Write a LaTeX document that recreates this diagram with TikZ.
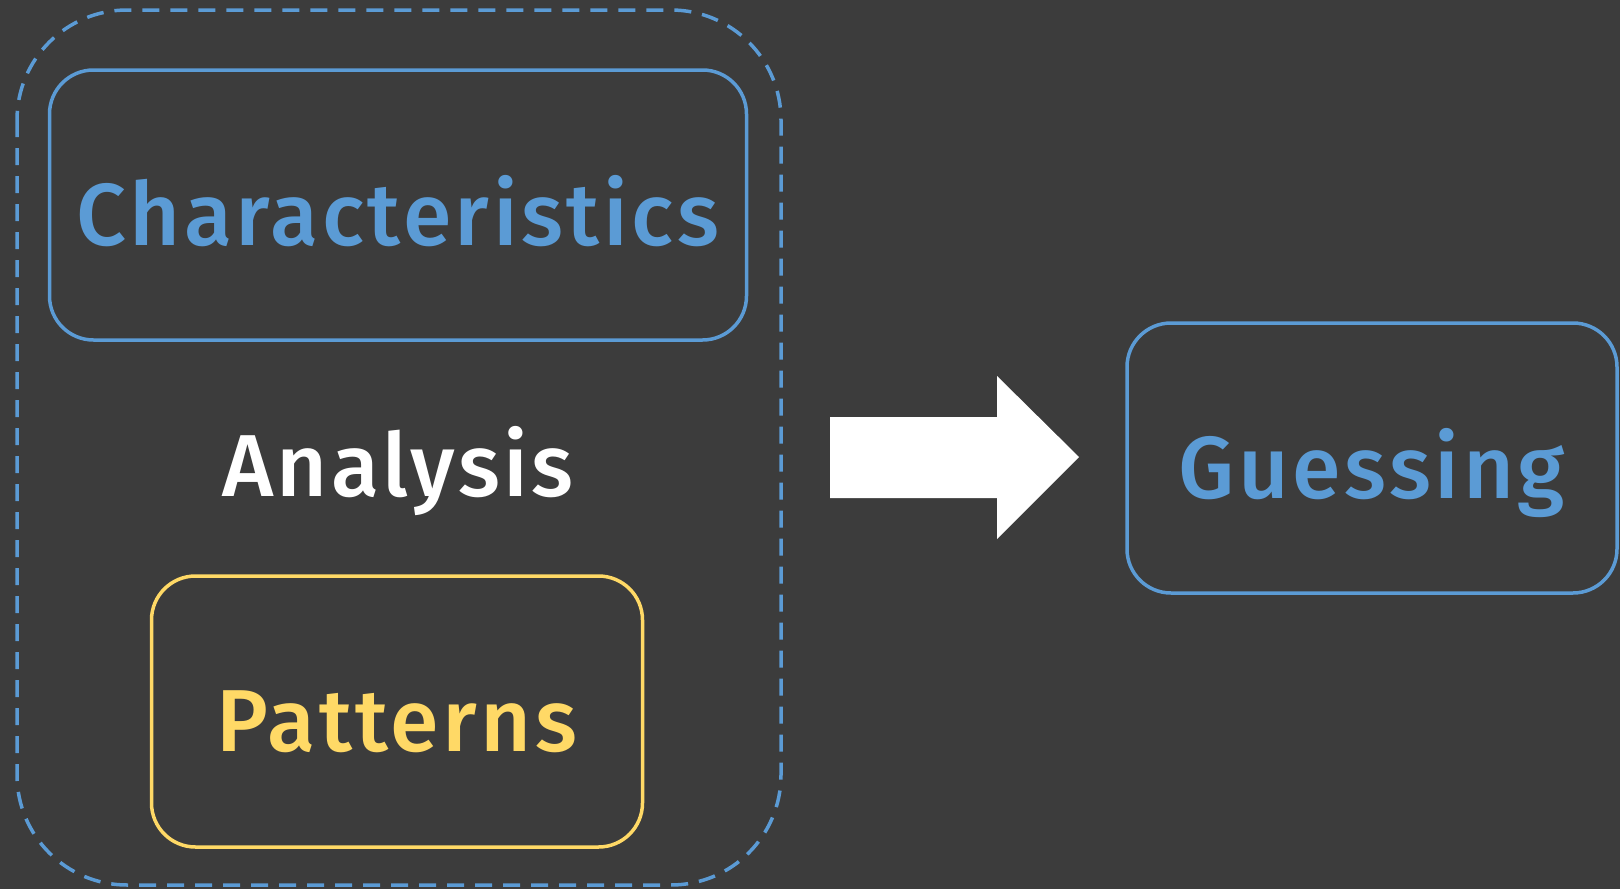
\documentclass[tikz,border=0pt]{standalone}
\usepackage{fontspec}
\setmainfont{Fira Sans}[LetterSpace=4, BoldFont={Fira Sans Medium}]
\usepackage{xcolor}
\definecolor{slate}{HTML}{3C3C3C}
\definecolor{skyblue}{HTML}{5B9BD5}
\definecolor{butter}{HTML}{FFD966}
\tikzset{
  bigtext/.style={font=\fontsize{88}{92}\selectfont\bfseries},
  roundbox/.style={draw, line width=3.5pt, rounded corners=44pt, inner sep=0pt,
    text height=80pt, text depth=0pt, bigtext},
  groupbox/.style={draw=skyblue, line width=3.5pt, rounded corners=110pt,
    dash pattern=on 17pt off 11pt}
}

\begin{document}
\begin{tikzpicture}[x=1pt, y=-1pt]
  % backdrop
  \fill[slate] (0,0) rectangle (1620,889);

  % the analysis group
  \draw[groupbox] (17,10) rectangle (781,885);
  \node[roundbox, draw=skyblue, text=skyblue, minimum width=697pt, minimum height=270pt] (chars) at (398,205) {Characteristics};
  \node[roundbox, draw=butter, text=butter, minimum width=491pt, minimum height=271pt] (patterns) at (397,711.5) {Patterns};
  \node[white, anchor=base, bigtext] (analysis) at (398,496) {Analysis};

  % block arrow
  \fill[white] (830,417) -- (997,417) -- (997,376) -- (1079,457)
    -- (997,539) -- (997,498) -- (830,498) -- cycle;

  \node[roundbox, draw=skyblue, text=skyblue, minimum width=490pt, minimum height=270pt] (guess) at (1372,458) {Guessing};
\end{tikzpicture}
\end{document}
